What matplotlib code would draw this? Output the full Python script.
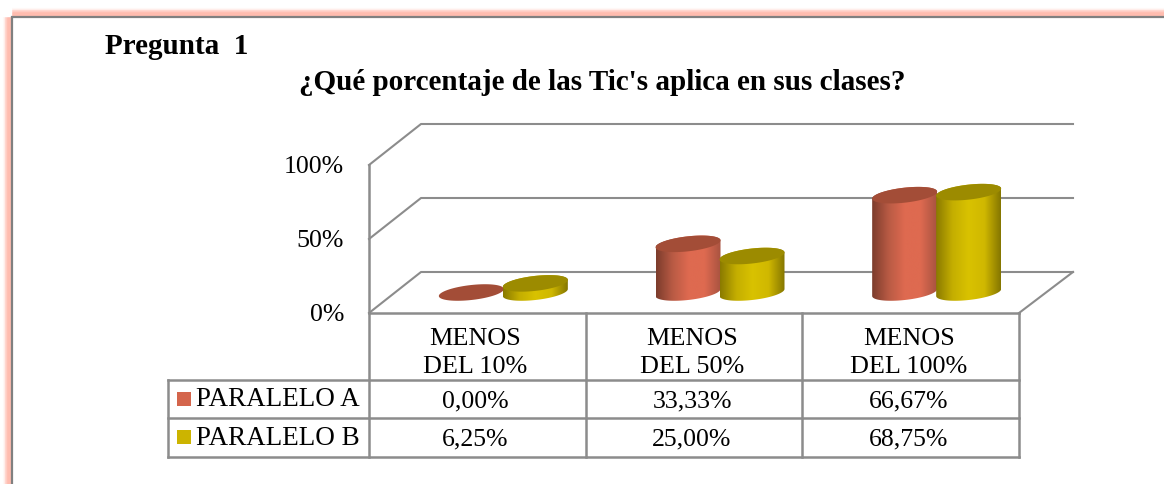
import numpy as np
import matplotlib
matplotlib.use('Agg')
import matplotlib.pyplot as plt
from matplotlib.colors import LinearSegmentedColormap
from matplotlib.patches import Polygon, Rectangle

categories = ['MENOS\nDEL 10%', 'MENOS\nDEL 50%', 'MENOS\nDEL 100%']
paralelo_a = [0.00, 33.33, 66.67]
paralelo_b = [6.25, 25.00, 68.75]
ticks = [0, 50, 100]
series_names = ['PARALELO A', 'PARALELO B']

GRID = '#8c8c8c'
red_cm = LinearSegmentedColormap.from_list('r', ['#7c3c2c', '#b85a44', '#de6a50', '#de6a50', '#a85340'])
yel_cm = LinearSegmentedColormap.from_list('y', ['#8a7a00', '#c4ae00', '#d9c200', '#d0b800', '#857600'])
red_top = '#a34d37'
yel_top = '#9c8b00'

plt.rcParams['font.family'] = ['Liberation Serif', 'DejaVu Serif']
fig = plt.figure(figsize=(11.64, 4.84), dpi=100)
ax = fig.add_axes([0, 0, 1, 1])
ax.set_xlim(0, 1164)
ax.set_ylim(484, 0)
ax.axis('off')

# frame with pink glow
for w, a in [(13, 0.08), (12, 0.12), (11, 0.16), (10, 0.2), (9, 0.24), (8, 0.28), (6, 0.2)]:
    ax.add_patch(Rectangle((12, 16.5), 1180, 500, fill=False, ec='#ffa898', lw=w, alpha=a))
ax.add_patch(Rectangle((12, 16.5), 1180, 500, fc='white', ec='#808080', lw=1.6, zorder=2))

x0, x1 = 369, 1019
y0 = 313
dx, dy = 52, -41
px_per_pct = 1.48
bar_per_pct = 1.46


def val_y(v):
    return y0 - v * px_per_pct


# walls and gridlines
for t in ticks:
    y = val_y(t)
    ax.plot([x0, x0 + dx, x1 + dx + 2], [y, y + dy, y + dy], color=GRID, lw=1.5, zorder=3)
    ax.text(344, y + 2, f'{t}%', ha='right', va='center', fontsize=18.6, zorder=5)
ax.plot([x1, x1 + dx + 2], [y0, y0 + dy], color=GRID, lw=1.5, zorder=3)

# table
rows_y = [380, 418, 457]
col_x = np.linspace(x0, x1, len(categories) + 1)
ax.plot([x0, x1], [y0, y0], color=GRID, lw=1.8, zorder=3)
for x in col_x:
    ax.plot([x, x], [val_y(100) if x == x0 else y0, rows_y[-1]], color=GRID, lw=1.8, zorder=3)
for y in rows_y:
    ax.plot([168, x1], [y, y], color=GRID, lw=1.8, zorder=3)
ax.plot([168, 168], [rows_y[0], rows_y[-1]], color=GRID, lw=1.8, zorder=3)

cell_w = col_x[1] - col_x[0]
centers = col_x[:-1] + cell_w / 2
for c, name in zip(centers, categories):
    ax.text(c - 2, 353, name, ha='center', va='center', fontsize=18.8, linespacing=1.33, zorder=5)
for j, (vals, name, col) in enumerate(zip([paralelo_a, paralelo_b], series_names, ['#d4654c', '#ccb400'])):
    ym = (rows_y[j] + rows_y[j + 1]) / 2
    ax.add_patch(Rectangle((177, ym - 7.5), 14, 14, fc=col, ec='none', zorder=5))
    ax.text(196, ym + 1, name, ha='left', va='center', fontsize=19.5, zorder=5)
    for c, v in zip(centers, vals):
        ax.text(c - 2, ym + 2, f'{v:.2f}%'.replace('.', ','), ha='center', va='center', fontsize=18.5, zorder=5)


def ell(cx, cy, a=32.5, b=7.5, s=3.5, t0=0, t1=2 * np.pi):
    t = np.linspace(t0, t1, 80)
    return cx + a * np.cos(t), cy + b * np.sin(t) - s * np.cos(t)


def cylinder(cx, v, cm, top, z):
    base = y0 - 20.5
    ytop = base - v * bar_per_pct
    if v > 0:
        xb, yb = ell(cx, base, t0=0, t1=np.pi)
        xt, yt = ell(cx, ytop, t0=np.pi, t1=2 * np.pi)
        poly = Polygon(np.column_stack([np.r_[xb, xt], np.r_[yb, yt]]), closed=True, fc='none', ec='none', zorder=z)
        ax.add_patch(poly)
        im = ax.imshow(np.linspace(0, 1, 128)[None, :], cmap=cm, aspect='auto',
                       extent=[cx - 32.5, cx + 32.5, base + 10, ytop - 10], zorder=z)
        im.set_clip_path(poly)
    xe, ye = ell(cx, ytop)
    ax.fill(xe, ye, color=top, lw=0, zorder=z + 0.5)


# cylinders, offset half the depth from cell centre
for c, a, b in zip(centers + dx / 2, paralelo_a, paralelo_b):
    cylinder(c - 32, a, red_cm, red_top, 6)
    cylinder(c + 32, b, yel_cm, yel_top, 7)

ax.set_xlim(0, 1164)
ax.set_ylim(484, 0)

ax.text(105, 47, 'Pregunta  1', fontsize=21, fontweight='bold', ha='left', va='center', zorder=5)
ax.text(602.5, 83, "¿Qué porcentaje de las Tic's aplica en sus clases?", fontsize=21,
        fontweight='bold', ha='center', va='center', zorder=5)

fig.savefig('out.png', dpi=100)
